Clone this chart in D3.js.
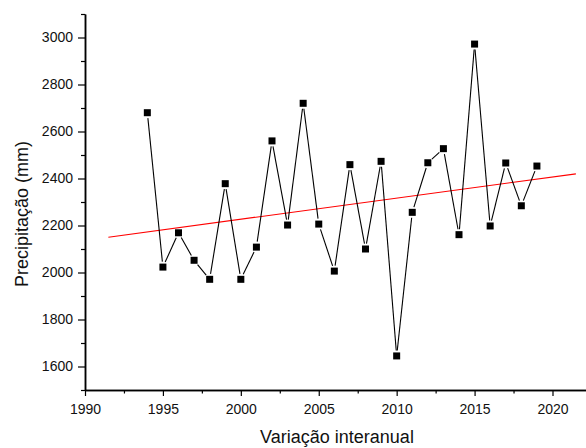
<!DOCTYPE html>
<html>
<head>
<meta charset="utf-8">
<title>Precipitação</title>
<script src="https://d3js.org/d3.v7.min.js"></script>
<style>
  body { margin: 0; background: #fff; }
  svg text { font-family: "Liberation Sans", Arial, sans-serif; fill: #111; }
</style>
</head>
<body>
<script>
// anos e precipitação anual (mm)
const years = [1994, 1995, 1996, 1997, 1998, 1999, 2000, 2001, 2002, 2003, 2004, 2005, 2006,
  2007, 2008, 2009, 2010, 2011, 2012, 2013, 2014, 2015, 2016, 2017, 2018, 2019];
const precip = [2680, 2023, 2169, 2052, 1971, 2378, 1971, 2108, 2560, 2202, 2720, 2206, 2006,
  2459, 2100, 2473, 1645, 2256, 2467, 2527, 2161, 2972, 2198, 2466, 2284, 2453];
// linha de tendência (extremos)
const trendYears = [1991.5, 2021.5];
const trendVals = [2150, 2420];
const xTicks = [1990, 1995, 2000, 2005, 2010, 2015, 2020];
const yTicks = [1600, 1800, 2000, 2200, 2400, 2600, 2800, 3000];

const w = 586, h = 448;
const mLeft = 85, mRight = 586, mTop = 14, mBottom = 390;

const svg = d3.select("body").append("svg")
  .attr("width", w).attr("height", h);

const x = d3.scaleLinear().domain([1990, 2022.15]).range([mLeft, mRight]);
const y = d3.scaleLinear().domain([1500, 3100]).range([mBottom, mTop]);

// trend
svg.append("line")
  .attr("x1", x(trendYears[0])).attr("y1", y(trendVals[0]))
  .attr("x2", x(trendYears[1])).attr("y2", y(trendVals[1]))
  .attr("stroke", "#f00").attr("stroke-width", 1.2);

// connecting line with gaps at the markers
const pts = years.map((d, i) => [x(d), y(precip[i])]);
const gap = 5.5;
for (let i = 0; i < pts.length - 1; i++) {
  const [x1, y1] = pts[i], [x2, y2] = pts[i + 1];
  const len = Math.hypot(x2 - x1, y2 - y1);
  if (len <= gap * 2) continue;
  const ux = (x2 - x1) / len, uy = (y2 - y1) / len;
  svg.append("line")
    .attr("x1", x1 + ux * gap).attr("y1", y1 + uy * gap)
    .attr("x2", x2 - ux * gap).attr("y2", y2 - uy * gap)
    .attr("stroke", "#000").attr("stroke-width", 1.1);
}

const m = 7;
svg.selectAll("rect.pt")
  .data(years)
  .enter()
  .append("rect")
  .attr("class", "pt")
  .attr("x", (d) => x(d) - m / 2)
  .attr("y", (d, i) => y(precip[i]) - m / 2)
  .attr("width", m).attr("height", m)
  .attr("fill", "#000");

// axes
const xAxis = d3.axisBottom(x).tickValues(xTicks).tickFormat(d3.format("d"))
  .tickSizeInner(6).tickSizeOuter(0).tickPadding(8);
const yAxis = d3.axisLeft(y).tickValues(yTicks).tickFormat(d3.format("d"))
  .tickSizeInner(7).tickSizeOuter(0).tickPadding(5);

const xMinor = d3.axisBottom(x).tickValues(d3.range(1992.5, 2022, 5))
  .tickFormat("").tickSizeInner(3.5).tickSizeOuter(0);
const yMinor = d3.axisLeft(y).tickValues(d3.range(1500, 3101, 200))
  .tickFormat("").tickSizeInner(4).tickSizeOuter(0);

const gx = svg.append("g").attr("transform", `translate(0,${mBottom})`).call(xAxis);
svg.append("g").attr("transform", `translate(0,${mBottom})`).call(xMinor);
const gy = svg.append("g").attr("transform", `translate(${mLeft},0)`).call(yAxis);
svg.append("g").attr("transform", `translate(${mLeft},0)`).call(yMinor);

svg.selectAll(".domain").attr("stroke", "#000").attr("stroke-width", 1.5);
svg.selectAll(".tick line").attr("stroke", "#000").attr("stroke-width", 1.2);
gx.selectAll("text").style("font-size", "14px").attr("fill", "#111");
gy.selectAll("text").style("font-size", "14px").attr("fill", "#111");

svg.append("text")
  .attr("x", 337).attr("y", 443)
  .attr("text-anchor", "middle")
  .style("font-size", "18px")
  .text("Variação interanual");

svg.append("text")
  .attr("transform", "translate(28,214) rotate(-90)")
  .attr("text-anchor", "middle")
  .style("font-size", "18px")
  .text("Precipitação (mm)");
</script>
</body>
</html>
